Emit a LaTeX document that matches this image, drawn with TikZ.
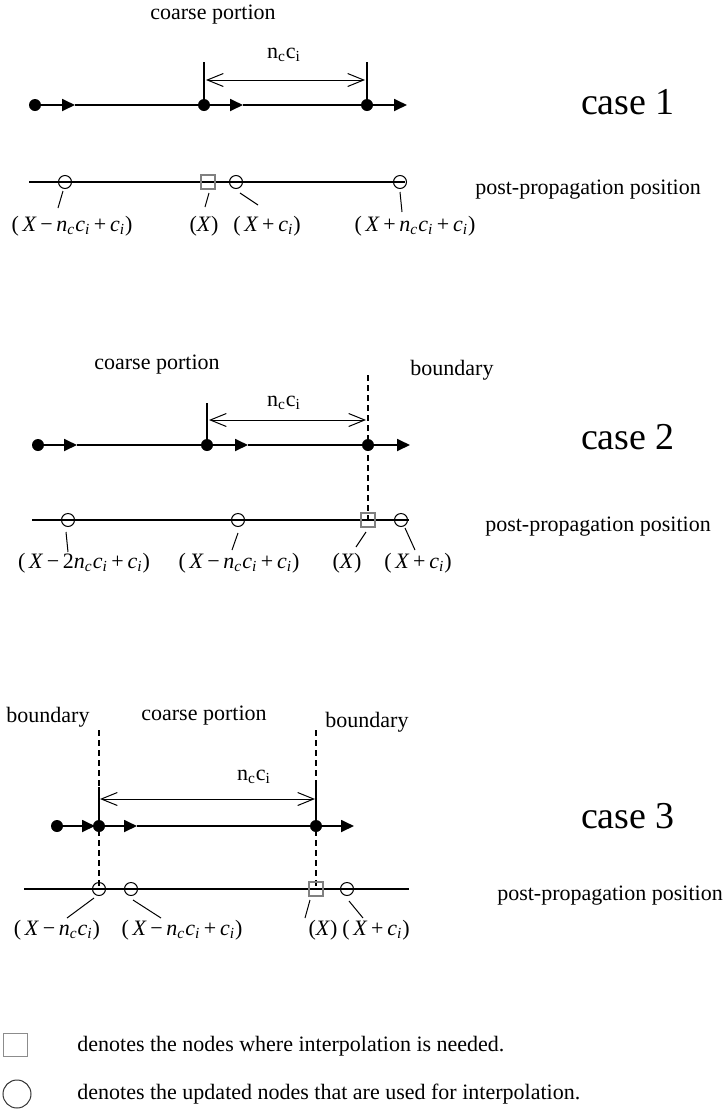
\documentclass[tikz,border=0pt]{standalone}
\usepackage{fontspec}
\setmainfont{Liberation Serif}
\usetikzlibrary{arrows.meta}
\newcommand{\ix}{\textit{X}}
\newcommand{\inc}{\textit{n}\textsubscript{\textit{c}}}
\newcommand{\ici}{\textit{c}\textsubscript{\textit{i}}}
\newcommand{\ncci}{n\textsubscript{c}c\textsubscript{i}}
\tikzset{
    dotnode/.style={circle, fill=black, minimum size=6pt, inner sep=0pt},
    opennode/.style={circle, draw=black, line width=0.5pt, minimum size=6.5pt, inner sep=0pt},
    interpnode/.style={rectangle, draw=black!50, line width=0.6pt, minimum size=7pt, inner sep=0pt},
    axisline/.style={line width=0.6pt},
    tipline/.style={-{Triangle[length=6.5pt,width=6pt]}, line width=0.9pt},
    spanline/.style={{Straight Barb[length=8pt,width=6.5pt]}-{Straight Barb[length=8pt,width=6.5pt]}, line width=0.5pt},
    tickline/.style={line width=0.6pt},
    boundline/.style={dash pattern=on 3pt off 2pt, line width=0.6pt},
    leader/.style={line width=0.5pt},
    txt/.style={font=\fontsize{11}{13}\selectfont, inner sep=0pt},
    casetxt/.style={font=\fontsize{19}{22}\selectfont, inner sep=0pt},
    legendtxt/.style={txt, anchor=west},
}
\begin{document}
\begin{tikzpicture}[x=0.5pt, y=-0.5pt]
    \useasboundingbox (0,0) rectangle (725,1109);

    % case 1
    \node[txt] (coarse1) at (213,15) {coarse portion};
    \node[txt] (span1) at (284,55) {\ncci};
    \node[casetxt] (case1) at (628,102) {case 1};
    \node[txt] (post1) at (588,190) {post-propagation position};

    \node[dotnode] (a1) at (35,105) {};
    \node[dotnode] (b1) at (204,105) {};
    \node[dotnode] (c1) at (367,105) {};
    \coordinate (a1t) at (75,105);
    \coordinate (b1t) at (243,105);
    \coordinate (c1t) at (407,105);
    \draw[tipline] (a1) -- (a1t);
    \draw[axisline] (a1t) -- (b1);
    \draw[tipline] (b1) -- (b1t);
    \draw[axisline] (b1t) -- (c1);
    \draw[tipline] (c1) -- (c1t);

    \coordinate (b1u) at (204,62);
    \coordinate (c1u) at (367,62);
    \draw[tickline] (b1u) -- (b1);
    \draw[tickline] (c1u) -- (c1);
    \coordinate (s1a) at (206,80);
    \coordinate (s1b) at (365,80);
    \draw[spanline] (s1a) -- (s1b);

    \coordinate (l1a) at (29,182);
    \coordinate (l1b) at (405,182);
    \draw[axisline] (l1a) -- (l1b);
    \node[opennode] (o11) at (65,182) {};
    \node[interpnode] (x1) at (208,182) {};
    \node[opennode] (o12) at (236,182) {};
    \node[opennode] (o13) at (400,182) {};

    \node[txt] (m11) at (72,226) {(\,\ix\,−\,\inc\ici\,+\,\ici)};
    \node[txt] (m12) at (204,226) {(\ix)};
    \node[txt] (m13) at (267,226) {(\,\ix\,+\,\ici)};
    \node[txt] (m14) at (415,226) {(\,\ix\,+\,\inc\ici\,+\,\ici)};
    \coordinate (p11) at (63,191);  \coordinate (q11) at (58,208);
    \coordinate (p12) at (209,193); \coordinate (q12) at (205,207);
    \coordinate (p13) at (240,193); \coordinate (q13) at (258,205);
    \coordinate (p14) at (400,192); \coordinate (q14) at (402,212);
    \draw[leader] (p11) -- (q11);
    \draw[leader] (p12) -- (q12);
    \draw[leader] (p13) -- (q13);
    \draw[leader] (p14) -- (q14);

    % case 2
    \node[txt] (coarse2) at (157,365) {coarse portion};
    \node[txt] (bound2) at (452,370) {boundary};
    \node[txt] (span2) at (284,403) {\ncci};
    \node[casetxt] (case2) at (628,437) {case 2};
    \node[txt] (post2) at (598,527) {post-propagation position};

    \coordinate (d2) at (368,375);
    \draw[boundline] (d2) -- (368,520);

    \node[dotnode] (a2) at (38,445) {};
    \node[dotnode] (b2) at (207,445) {};
    \node[dotnode] (c2) at (368,445) {};
    \coordinate (a2t) at (77,445);
    \coordinate (b2t) at (248,445);
    \coordinate (c2t) at (410,445);
    \draw[tipline] (a2) -- (a2t);
    \draw[axisline] (a2t) -- (b2);
    \draw[tipline] (b2) -- (b2t);
    \draw[axisline] (b2t) -- (c2);
    \draw[tipline] (c2) -- (c2t);

    \coordinate (b2u) at (207,403);
    \draw[tickline] (b2u) -- (b2);
    \coordinate (s2a) at (209,420);
    \coordinate (s2b) at (366,420);
    \draw[spanline] (s2a) -- (s2b);

    \coordinate (l2a) at (32,520);
    \coordinate (l2b) at (409,520);
    \draw[axisline] (l2a) -- (l2b);
    \node[opennode] (o21) at (68,520) {};
    \node[opennode] (o22) at (238,520) {};
    \node[interpnode] (x2) at (368,520) {};
    \node[opennode] (o23) at (401,520) {};

    \node[txt] (m21) at (84,563) {(\,\ix\,−\,2\inc\ici\,+\,\ici)};
    \node[txt] (m22) at (239,563) {(\,\ix\,−\,\inc\ici\,+\,\ici)};
    \node[txt] (m23) at (347,563) {(\ix)};
    \node[txt] (m24) at (418,563) {(\,\ix\,+\,\ici)};
    \coordinate (p21) at (66,532);  \coordinate (q21) at (68,552);
    \coordinate (p22) at (238,533); \coordinate (q22) at (232,550);
    \coordinate (p23) at (366,532); \coordinate (q23) at (356,547);
    \coordinate (p24) at (405,528); \coordinate (q24) at (415,550);
    \draw[leader] (p21) -- (q21);
    \draw[leader] (p22) -- (q22);
    \draw[leader] (p23) -- (q23);
    \draw[leader] (p24) -- (q24);

    % case 3
    \node[txt] (bound31) at (48,717) {boundary};
    \node[txt] (coarse3) at (204,716) {coarse portion};
    \node[txt] (bound32) at (367,722) {boundary};
    \node[txt] (span3) at (254,777) {\ncci};
    \node[casetxt] (case3) at (628,816) {case 3};
    \node[txt] (post3) at (610,896) {post-propagation position};

    \coordinate (d31) at (99,730);
    \coordinate (d32) at (316,730);
    \draw[boundline] (d31) -- (99,889);
    \draw[boundline] (d32) -- (316,889);

    \node[dotnode] (a3) at (57,826) {};
    \node[dotnode] (b3) at (99,826) {};
    \node[dotnode] (c3) at (316,826) {};
    \coordinate (a3t) at (95,826);
    \coordinate (b3t) at (137,826);
    \coordinate (c3t) at (354,826);
    \draw[tipline] (a3) -- (a3t);
    \draw[tipline] (b3) -- (b3t);
    \draw[axisline] (b3t) -- (c3);
    \draw[tipline] (c3) -- (c3t);

    \coordinate (b3u) at (99,787);
    \coordinate (c3u) at (316,785);
    \draw[tickline] (b3u) -- (b3);
    \draw[tickline] (c3u) -- (c3);
    \coordinate (s3a) at (100,799);
    \coordinate (s3b) at (315,799);
    \draw[spanline] (s3a) -- (s3b);

    \coordinate (l3a) at (24,889);
    \coordinate (l3b) at (409,889);
    \draw[axisline] (l3a) -- (l3b);
    \node[opennode] (o31) at (99,889) {};
    \node[opennode] (o32) at (131,889) {};
    \node[interpnode] (x3) at (316,889) {};
    \node[opennode] (o33) at (347,889) {};

    \node[txt] (m31) at (57,930) {(\,\ix\,−\,\inc\ici)};
    \node[txt] (m32) at (182,930) {(\,\ix\,−\,\inc\ici\,+\,\ici)};
    \node[txt] (m33) at (323,930) {(\ix)};
    \node[txt] (m34) at (376,930) {(\,\ix\,+\,\ici)};
    \coordinate (p31) at (94,898);  \coordinate (q31) at (67,918);
    \coordinate (p32) at (133,900); \coordinate (q32) at (161,918);
    \coordinate (p33) at (310,900); \coordinate (q33) at (305,918);
    \coordinate (p34) at (349,901); \coordinate (q34) at (363,918);
    \draw[leader] (p31) -- (q31);
    \draw[leader] (p32) -- (q32);
    \draw[leader] (p33) -- (q33);
    \draw[leader] (p34) -- (q34);

    % legend
    \node[rectangle, draw=black!45, line width=0.5pt, minimum width=12pt, minimum height=11.5pt, inner sep=0pt] (keysq) at (15,1045) {};
    \node[circle, draw=black!80, line width=0.5pt, minimum size=14pt, inner sep=0pt] (keyci) at (17,1094) {};
    \node[legendtxt] (keysqtxt) at (77,1046) {denotes the nodes where interpolation is needed.};
    \node[legendtxt] (keycitxt) at (77,1094) {denotes the updated nodes that are used for interpolation.};
\end{tikzpicture}
\end{document}
